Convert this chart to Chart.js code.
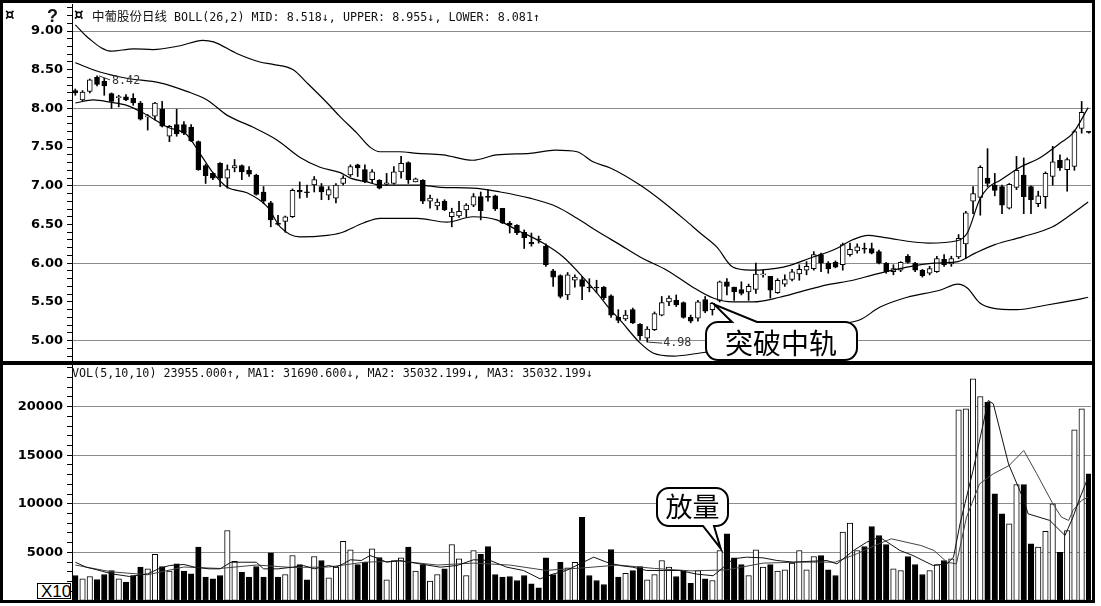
<!DOCTYPE html>
<html>
<head>
<meta charset="utf-8">
<script src="https://cdn.jsdelivr.net/npm/chart.js@4.4.0/dist/chart.umd.min.js"></script>
<style>
  body { margin: 0; background: #fff; width: 1101px; height: 606px; position: relative; overflow: hidden; }
  #frame { position: absolute; left: 0; top: 0; width: 1095px; height: 603px; border: 3px solid #000; box-sizing: border-box; z-index: 5; pointer-events: none; }
  #sep { position: absolute; left: 0; top: 361px; width: 1095px; height: 4px; background: #000; z-index: 5; }
  #priceChart { position: absolute; left: 0; top: 4px; }
  #volChart { position: absolute; left: 0; top: 365px; }
  .txt { position: absolute; white-space: nowrap; color: #111; z-index: 4; font-family: "DejaVu Sans Mono", monospace; font-size: 11.7px; line-height: 14px; }
  .cjk { font-family: "Noto Sans CJK SC", sans-serif; font-size: 12.5px; }
  .icon { position: absolute; z-index: 4; font: bold 15px "DejaVu Sans", sans-serif; line-height: 14px; color: #000; }
  #x10 { position: absolute; left: 37px; top: 583px; width: 34px; height: 16px; border: 1px solid #000; box-sizing: border-box; overflow: hidden; font: 17px "Liberation Sans", sans-serif; line-height: 15px; padding-left: 3px; z-index: 4; background: #fff; white-space: nowrap; }
</style>
</head>
<body>
<canvas id="priceChart" width="1091" height="358" style="width:1091px;height:358px"></canvas>
<canvas id="volChart" width="1091" height="236" style="width:1091px;height:236px"></canvas>
<div id="frame"></div>
<div id="sep"></div>
<div class="icon" style="left:5px;top:8px">¤</div>
<div class="txt" style="left:47px;top:6px;font:bold 18px 'Liberation Sans',sans-serif">?</div>
<div class="icon" style="left:74px;top:8px">¤</div>
<div class="txt" style="left:92px;top:9px"><span class="cjk">中葡股份日线</span> BOLL(26,2) MID: 8.518↓, UPPER: 8.955↓, LOWER: 8.081↑</div>
<div class="txt" style="left:72px;top:366px">VOL(5,10,10) 23955.000↑, MA1: 31690.600↓, MA2: 35032.199↓, MA3: 35032.199↓</div>
<div id="x10">X10</div>
<script>
// daily candles, index 0..140 (last one cut by the right edge)
const opens = [8.23,8.11,8.22,8.40,8.35,8.19,8.14,8.15,8.13,8.07,
  7.89,7.90,7.99,7.64,7.79,7.79,7.76,7.57,7.26,7.16,
  7.29,7.10,7.23,7.26,7.20,7.14,6.92,6.78,6.52,6.54,
  6.60,6.94,6.92,7.01,6.99,6.88,6.84,7.03,7.14,7.27,
  7.21,7.08,7.07,7.02,7.03,7.18,7.30,7.05,7.07,6.80,
  6.74,6.80,6.60,6.61,6.69,6.75,6.86,6.86,6.87,6.71,
  6.52,6.49,6.40,6.27,6.31,6.22,5.90,5.84,5.59,5.78,
  5.79,5.69,5.69,5.69,5.58,5.30,5.28,5.40,5.21,5.03,
  5.14,5.33,5.50,5.52,5.49,5.30,5.29,5.53,5.40,5.52,
  5.76,5.69,5.66,5.63,5.66,5.85,5.83,5.62,5.73,5.79,
  5.86,5.91,5.93,6.11,6.00,6.01,5.98,6.11,6.16,6.19,
  6.19,6.15,6.00,5.89,5.91,6.09,6.00,5.91,5.87,5.89,
  6.05,5.99,6.08,6.25,6.80,6.85,7.10,7.01,6.99,6.71,
  6.98,7.14,6.99,6.77,6.86,7.12,7.33,7.21,7.25,7.74,
  7.70];
const highs = [8.25,8.23,8.38,8.42,8.39,8.20,8.17,8.18,8.19,8.09,
  7.92,8.08,8.09,7.78,7.99,7.83,7.79,7.58,7.28,7.17,
  7.30,7.27,7.34,7.27,7.25,7.15,6.99,6.80,6.62,6.61,
  6.96,7.05,7.01,7.12,7.03,6.99,7.03,7.13,7.27,7.28,
  7.27,7.21,7.08,7.16,7.25,7.38,7.31,7.10,7.08,6.88,
  6.83,6.82,6.71,6.80,6.77,6.90,6.92,6.95,6.88,6.71,
  6.54,6.50,6.43,6.39,6.35,6.25,5.92,5.85,5.88,5.85,
  5.83,5.80,5.78,5.70,5.59,5.40,5.39,5.42,5.22,5.18,
  5.37,5.57,5.58,5.59,5.50,5.33,5.52,5.57,5.49,5.77,
  5.80,5.69,5.76,5.73,6.00,5.91,5.83,5.80,5.85,5.92,
  5.98,6.02,6.15,6.13,6.02,6.03,6.26,6.26,6.25,6.26,
  6.26,6.17,6.01,5.98,6.02,6.11,6.01,5.92,5.96,6.09,
  6.11,6.09,6.37,6.67,6.99,7.26,7.48,7.16,7.01,7.03,
  7.38,7.36,7.00,6.93,7.18,7.51,7.40,7.36,7.72,8.09,
  7.70];
const lows = [8.17,8.10,8.20,8.29,8.17,8.00,8.02,8.10,8.04,7.85,
  7.72,7.85,7.76,7.57,7.64,7.66,7.57,7.20,7.03,7.08,
  6.99,6.97,7.18,7.08,7.12,6.88,6.77,6.47,6.49,6.40,
  6.59,6.84,6.85,6.92,6.82,6.82,6.78,7.01,7.12,7.12,
  7.04,7.03,6.96,7.01,7.02,7.10,7.03,7.05,6.77,6.71,
  6.69,6.68,6.47,6.59,6.60,6.73,6.56,6.80,6.68,6.51,
  6.39,6.37,6.19,6.22,6.26,5.96,5.70,5.55,5.53,5.69,
  5.53,5.63,5.62,5.53,5.30,5.23,5.26,5.22,5.01,4.98,
  5.13,5.32,5.45,5.44,5.29,5.23,5.25,5.36,5.33,5.50,
  5.59,5.52,5.59,5.52,5.61,5.82,5.55,5.61,5.70,5.77,
  5.78,5.85,5.91,5.89,5.87,5.94,5.91,6.09,6.13,6.13,
  6.12,5.99,5.87,5.85,5.89,6.00,5.89,5.82,5.85,5.88,
  5.96,5.96,6.06,6.06,6.64,6.62,6.99,6.87,6.64,6.70,
  6.95,6.64,6.64,6.73,6.71,7.01,7.20,6.93,7.20,7.68,
  7.68];
const closes = [8.20,8.21,8.37,8.31,8.29,8.09,8.15,8.11,8.07,7.86,
  7.90,8.07,7.77,7.77,7.67,7.68,7.58,7.21,7.13,7.10,
  7.10,7.21,7.26,7.18,7.15,6.89,6.80,6.56,6.50,6.60,
  6.94,6.92,6.91,7.08,6.92,6.95,7.01,7.10,7.25,7.23,
  7.05,7.18,6.97,7.04,7.18,7.29,7.08,7.09,6.80,6.84,
  6.79,6.69,6.66,6.67,6.75,6.86,6.68,6.85,6.70,6.52,
  6.49,6.39,6.33,6.25,6.30,5.98,5.82,5.57,5.85,5.82,
  5.70,5.68,5.68,5.55,5.33,5.26,5.33,5.23,5.06,5.15,
  5.35,5.49,5.55,5.46,5.30,5.25,5.50,5.38,5.48,5.76,
  5.70,5.63,5.61,5.70,5.86,5.86,5.65,5.78,5.79,5.89,
  5.92,5.96,6.11,6.00,5.93,5.95,6.24,6.18,6.21,6.18,
  6.13,6.00,5.89,5.93,6.01,6.01,5.91,5.84,5.93,6.06,
  5.98,6.06,6.32,6.65,6.90,7.24,7.03,6.94,6.75,7.02,
  7.20,6.86,6.82,6.87,7.16,7.31,7.23,7.34,7.70,7.95,
  7.69];
const volumes = [2620,2280,2520,2210,2730,3140,2280,1940,2620,3480,
  3310,4790,3550,3070,3830,3070,2800,5540,2450,2280,
  2620,7250,4070,2960,2450,3550,2450,4960,2450,2730,
  4680,3760,2180,4580,4170,2390,3480,6150,5270,3760,
  3990,5370,4480,2180,4170,4440,5540,3070,3760,2040,
  2730,3310,5810,4340,2620,5200,4790,5610,2730,2450,
  2520,2110,2620,1770,1360,4440,2730,3990,3420,3990,
  8620,2620,2110,1700,5300,2450,2860,3140,3550,2180,
  2730,4170,3480,2520,3140,1830,3140,2280,2110,5200,
  6910,4440,3760,2620,5270,3480,3760,3070,3210,3890,
  5200,3210,4580,4680,3210,2620,7080,8010,5200,5610,
  7670,6740,5810,3310,3140,4580,3760,2730,3140,3760,
  4170,4340,19670,19780,22860,21040,20460,11030,8970,7940,
  11990,11990,5890,5540,7180,10000,5020,7250,17620,19780,
  13090];

// BOLL(26,2) bands, read at sample positions (candle index)
const upperIdx = [0,1.8,4.9,8.1,10.7,14.5,17.6,19.1,22.3,25.5,27.3,30.1,32,34.8,36.6,38.9,40.7,42.1,44.8,47.2,50.8,
  54.9,58.2,62.8,66.3,69.3,71.5,73.9,78,80.8,84.2,86.3,88.6,90.8,93.2,97.8,101.9,104.7,107.3,109.5,111.8,
  117.8,121.8,123.2,124.9,126.1,127.7,130.5,133.2,136,137.8,139.9];
const upperVals = [9.08,8.91,8.74,8.77,8.76,8.81,8.88,8.86,8.71,8.60,8.57,8.50,8.33,8.07,7.89,7.68,7.50,7.44,7.44,7.42,7.40,
  7.33,7.40,7.42,7.46,7.44,7.31,7.23,7.01,6.82,6.56,6.39,6.21,5.95,5.91,5.95,6.08,6.17,6.30,6.36,6.33,
  6.26,6.29,6.39,6.82,6.98,7.07,7.24,7.36,7.55,7.68,8.01];
const midIdx = [0,3.4,7.1,11.7,15.4,18.2,21,24.5,27.9,31,33.8,36.6,38,40.3,42.1,47.6,50.4,54.9,58.7,62.8,
  66.5,69.3,72.5,75.2,78,81.7,85.3,88.1,90.8,93.6,97.3,100.1,103.8,107.4,110.2,114.9,118.7,121.9,124.3,127,
  130.8,135,137.1,139.9];
const midVals = [8.59,8.47,8.39,8.33,8.22,8.11,7.91,7.76,7.59,7.37,7.24,7.17,7.10,7.05,7.01,7.01,6.98,6.97,6.92,6.84,
  6.73,6.58,6.39,6.24,6.08,5.91,5.69,5.55,5.50,5.50,5.56,5.63,5.72,5.78,5.85,5.95,6.00,6.02,6.13,6.24,
  6.34,6.47,6.60,6.79];
const lowerIdx = [0,2.5,4.8,7.1,9.4,12.7,15.4,17.2,19,21,23.7,26.5,28.3,31,34.8,36.6,39.8,42.1,47.2,51.3,
  54.9,58.2,61,64.6,67.4,70.1,72.1,73.9,75.2,78,79.8,82.6,86.3,90.4,97.3,104.2,108.4,111.1,114.9,119.4,
  121.9,123.2,124.9,126.7,130,134.2,137.8,139.9];
const lowerVals = [8.07,8.11,8.08,8.04,7.94,7.76,7.66,7.42,7.17,6.98,6.91,6.73,6.47,6.34,6.36,6.39,6.52,6.58,6.58,6.53,
  6.60,6.56,6.43,6.26,6.08,5.82,5.61,5.40,5.27,4.97,4.84,4.80,4.84,4.90,5.07,5.20,5.27,5.43,5.56,5.65,
  5.73,5.68,5.49,5.42,5.40,5.46,5.52,5.56];

// volume moving averages (MA1 = 5 day, MA2/MA3 = 10 day)
const ma5Idx = [0,1.5,3,5,7.5,10,11.5,13,15,16.5,18.5,20,21.5,23,25,26,28,30,31.5,33,
  35,36,37,38,39.5,40.7,42,43,44.8,47.6,50.4,52.7,55,57.3,59.6,61.9,64.2,66,67.8,69.7,
  71.6,73.4,75.2,77,78.9,81.2,83.5,85.8,88.1,89,90.9,92.7,95,96.9,99.2,103.8,105.2,107.5,109.3,111.1,
  113.9,115.7,118.5,120.4,121.3,122.2,124,126.1,126.8,128.9,131,131.6,134.6,136.7,137.8,138.8,139.9];
const ma5Vals = [3990,3480,3210,2800,2520,2800,3310,3650,3760,3480,3310,3310,3990,3990,3990,3310,3310,3480,3650,3310,
  3650,3480,3820,4240,4170,4680,4340,3990,4170,3820,3480,3650,4240,4170,3480,3140,2280,2770,3140,3820,
  4510,3990,3650,3480,3140,3140,3140,2770,2600,3140,4340,4510,4440,4170,4000,4170,3820,5200,6050,6570,
  5200,4680,3650,3820,4510,7940,13430,20630,20290,14100,10400,8970,8290,6740,8630,10690,12750];
const ma10Idx = [0,5,10,15,20,25,30,35,40,45,50,55,60,65,70,75,80,85,90,95,
  100,105,107.9,110.4,112.7,116.8,118.6,120.4,121.7,123.1,124.9,126.8,129,131,132.8,134.9,136.2,137.2,137.8,139,139.9];
const ma10Vals = [3700,3000,2700,3500,3350,3700,3450,3500,4000,4100,3700,3900,3700,3150,3400,3700,3350,3100,3200,3900,
  4000,4000,4850,5700,6400,5710,5200,3995,3820,8630,12060,13090,13950,15490,13090,10170,8630,8290,9320,10350,10690];

// axis labels
const priceTickLabels = ['5.00','5.50','6.00','6.50','7.00','7.50','8.00','8.50','9.00'];
const volTickLabels = ['5000','10000','15000','20000'];

const highMark = 3, lowMark = 79;      // candles carrying the 8.42 / 4.98 marks
const breakIdx = 88, surgeIdx = 89;    // candles pointed to by the callouts

const xMin = -0.456, xMax = 140.29;
const upColor = (i) => closes[i] >= opens[i] ? '#ffffff' : '#000000';
const pts = (xs, ys) => xs.map((x, i) => ({x: x, y: ys[i]}));
const labelFont = {family: 'DejaVu Sans', size: 13, weight: 'bold'};

function yAxis(min, max, tickVals, labels, isMajor) {
  return {
    min: min, max: max, position: 'left',
    afterBuildTicks: (s) => { s.ticks = tickVals.map(v => ({value: v})); },
    afterFit: (s) => { s.width = 72; s.paddingTop = 0; s.paddingBottom = 0; },
    ticks: {
      autoSkip: false, padding: 4, color: '#000', font: labelFont,
      callback: (v) => { const s = labels.fmt(v); return labels.list.includes(s) ? s : ''; }
    },
    grid: {
      color: (c) => isMajor(c.tick.value) ? '#8c8c8c' : 'rgba(0,0,0,0)',
      tickColor: '#000', tickLength: 5, lineWidth: 1
    },
    border: {display: true, color: '#000', width: 1}
  };
}

const priceTicks = [];
for (let n = 48; n <= 93; n++) priceTicks.push(n / 10);
const volTicks = [];
for (let n = 0; n <= 24; n++) volTicks.push(n * 1000);

const bandLine = (label, xs, ys) => ({
  type: 'line', label: label, data: pts(xs, ys), borderColor: '#000', borderWidth: 1.2,
  pointRadius: 0, cubicInterpolationMode: 'monotone', order: 0
});

function bubble(ctx, l, t, r, b, rad, tail) {
  ctx.beginPath();
  ctx.moveTo(l + rad, t);
  if (tail.side === 'top') { ctx.lineTo(tail.a, t); ctx.lineTo(tail.tx, tail.ty); ctx.lineTo(tail.b, t); }
  ctx.lineTo(r - rad, t);
  ctx.arcTo(r, t, r, t + rad, rad);
  ctx.lineTo(r, b - rad);
  ctx.arcTo(r, b, r - rad, b, rad);
  if (tail.side === 'bottom') { ctx.lineTo(tail.b, b); ctx.lineTo(tail.tx, tail.ty); ctx.lineTo(tail.a, b); }
  ctx.lineTo(l + rad, b);
  ctx.arcTo(l, b, l, b - rad, rad);
  ctx.lineTo(l, t + rad);
  ctx.arcTo(l, t, l + rad, t, rad);
  ctx.closePath();
  ctx.fillStyle = '#fff';
  ctx.fill();
  ctx.strokeStyle = '#000';
  ctx.lineWidth = 2;
  ctx.stroke();
}

const priceNotes = {
  id: 'priceNotes',
  afterDatasetsDraw(chart) {
    const {ctx, scales: {x, y}} = chart;
    ctx.save();
    ctx.strokeStyle = '#333';
    ctx.fillStyle = '#333';
    ctx.lineWidth = 1;
    ctx.font = '11.7px "DejaVu Sans Mono"';
    ctx.textBaseline = 'middle';
    ctx.textAlign = 'left';
    let hx = x.getPixelForValue(highMark), hy = y.getPixelForValue(highs[highMark]);
    ctx.beginPath(); ctx.moveTo(hx + 2, hy); ctx.lineTo(hx + 13, hy + 4); ctx.stroke();
    ctx.fillText(highs[highMark].toFixed(2), hx + 15, hy + 5);
    let lx = x.getPixelForValue(lowMark), ly = y.getPixelForValue(lows[lowMark]);
    ctx.beginPath(); ctx.moveTo(lx + 1, ly); ctx.lineTo(lx + 15, ly + 1); ctx.stroke();
    ctx.fillText(lows[lowMark].toFixed(2), lx + 16, ly + 1);

    const tx = x.getPixelForValue(breakIdx) + 2, ty = y.getPixelForValue(highs[breakIdx]) + 2;
    bubble(ctx, 706, 318, 857, 356, 12, {side: 'top', a: 732, b: 757, tx: tx, ty: ty});
    ctx.fillStyle = '#000';
    ctx.font = '28px "Noto Sans CJK SC"';
    ctx.textAlign = 'center';
    ctx.fillText('突破中轨', 781, 339);
    ctx.restore();
  }
};

const volNotes = {
  id: 'volNotes',
  afterDatasetsDraw(chart) {
    const {ctx, scales: {x, y}} = chart;
    ctx.save();
    const tx = x.getPixelForValue(surgeIdx) + 1, ty = y.getPixelForValue(volumes[surgeIdx]) - 2;
    bubble(ctx, 657, 123, 728, 161, 12, {side: 'bottom', a: 703, b: 714, tx: tx, ty: ty});
    ctx.fillStyle = '#000';
    ctx.font = '27px "Noto Sans CJK SC"';
    ctx.textAlign = 'center';
    ctx.textBaseline = 'middle';
    ctx.fillText('放量', 692.5, 142);
    ctx.restore();
  }
};

const common = {
  responsive: false, animation: false, devicePixelRatio: 1,
  plugins: {legend: {display: false}, tooltip: {enabled: false}},
  layout: {padding: 0}
};

new Chart(document.getElementById('priceChart').getContext('2d'), {
  type: 'bar',
  data: {
    datasets: [
      {
        label: 'body', data: opens.map((o, i) => ({x: i, y: [o, closes[i]]})),
        backgroundColor: opens.map((o, i) => upColor(i)), borderColor: '#000', borderWidth: 1,
        borderSkipped: false, barThickness: 5, minBarLength: 1, grouped: false, order: 1
      },
      {
        label: 'wick', data: lows.map((l, i) => ({x: i, y: [l, highs[i]]})),
        backgroundColor: '#000', barThickness: 1, grouped: false, order: 2
      },
      bandLine('UPPER', upperIdx, upperVals),
      bandLine('MID', midIdx, midVals),
      bandLine('LOWER', lowerIdx, lowerVals)
    ]
  },
  options: Object.assign({}, common, {
    scales: {
      x: {type: 'linear', min: xMin, max: xMax, display: false, offset: false},
      y: yAxis(4.7235, 9.349, priceTicks,
        {list: priceTickLabels, fmt: (v) => Number(v).toFixed(2)},
        (v) => Math.abs(v - Math.round(v)) < 1e-6)
    }
  }),
  plugins: [priceNotes]
});

new Chart(document.getElementById('volChart').getContext('2d'), {
  type: 'bar',
  data: {
    datasets: [
      {
        label: 'VOL', data: volumes.map((v, i) => ({x: i, y: v})),
        backgroundColor: volumes.map((v, i) => upColor(i)), borderColor: '#000', borderWidth: 1,
        borderSkipped: false, barThickness: 5.5, grouped: false, order: 2
      },
      {type: 'line', label: 'MA1', data: pts(ma5Idx, ma5Vals), borderColor: '#111', borderWidth: 1,
        pointRadius: 0, order: 0},
      {type: 'line', label: 'MA2', data: pts(ma10Idx, ma10Vals), borderColor: '#444', borderWidth: 1,
        pointRadius: 0, order: 1}
    ]
  },
  options: Object.assign({}, common, {
    scales: {
      x: {type: 'linear', min: xMin, max: xMax, display: false, offset: false},
      y: yAxis(0, 24284, volTicks,
        {list: volTickLabels, fmt: (v) => String(Math.round(v))},
        (v) => v > 0 && v % 5000 === 0)
    }
  }),
  plugins: [volNotes]
});
</script>
</body>
</html>
